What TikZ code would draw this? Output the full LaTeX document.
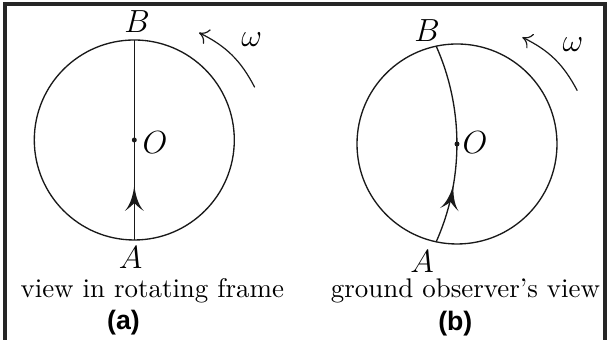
\documentclass[tikz,border=0pt]{standalone}
\usepackage{fontspec}
\newfontfamily\lsans{Liberation Sans}
\usetikzlibrary{decorations.markings,arrows.meta}
\tikzset{
  ln/.style={line width=0.5pt, draw=black!90},
  midhead/.style={postaction={decorate}, decoration={markings, mark=at position #1 with {\fill[black!90] (0,0) .. controls (-10,1) and (-20,4) .. (-26,9.5) .. controls (-23,5) and (-20,2) .. (-18,0) .. controls (-20,-2) and (-23,-5) .. (-26,-9.5) .. controls (-20,-4) and (-10,-1) .. (0,0) -- cycle;}}},
  lbl/.style={inner sep=0pt, font=\large},
  captext/.style={inner sep=0pt, anchor=base, font=\fontsize{10.1}{12}\selectfont},
  tagtext/.style={inner sep=0pt, anchor=base, font=\lsans\bfseries},
  rot/.style={line width=0.45pt, draw=black!90, -{Computer Modern Rightarrow[length=3.5pt,width=6pt]}, bend right=18},
  frame/.style={line width=1.5pt, draw=black!85},
}
\begin{document}
\begin{tikzpicture}[x=0.375pt, y=0.375pt]
\useasboundingbox (0,0) rectangle (608,340);
\draw[frame] (5,0) -- (5,336) -- (605,336) -- (605,0);

% (a)
\coordinate (Oa) at (134.3,200);
\coordinate (Aa) at (134.3,100);
\coordinate (Ba) at (134.3,300);
\draw[ln] (Oa) circle[radius=100];
\draw[ln, midhead=0.275] (Aa) -- (Ba);
\fill[black!90] (Oa) circle[radius=2.5];
\node[lbl] (la) at (130.5,82) {$A$};
\node[lbl] (lb) at (137,318.7) {$B$};
\node[lbl] (lo) at (155,197.7) {$O$};
\node[lbl] (lw) at (251.7,300.3) {$\omega$};
\coordinate (wa1) at (254.7,252.7);
\coordinate (wa2) at (199,307.3);
\draw[rot] (wa1) to (wa2);
\node[captext] (ta) at (152.3,42.3) {view in rotating frame};
\node[tagtext] (pa) at (123.5,10.5) {(a)};

% (b)
\coordinate (Ob) at (457,196);
\coordinate (Ab) at (436.2,98.2);
\coordinate (Bb) at (436.2,293.8);
\draw[ln] (Ob) circle[radius=100];
\draw[ln, midhead=0.30] (Ab) to[bend right=24, looseness=0.89] (Bb);
\fill[black!90] (Ob) circle[radius=2.5];
\node[lbl] (lab) at (422,78.3) {$A$};
\node[lbl] (lbb) at (427,309) {$B$};
\node[lbl] (lob) at (475,197) {$O$};
\node[lbl] (lwb) at (573,295) {$\omega$};
\coordinate (wb1) at (577.3,249.3);
\coordinate (wb2) at (522.3,302.7);
\draw[rot] (wb1) to (wb2);
\node[captext] (tb) at (465.5,42.3) {ground observer's view};
\node[tagtext] (pb) at (455.3,9.7) {(b)};
\end{tikzpicture}
\end{document}
